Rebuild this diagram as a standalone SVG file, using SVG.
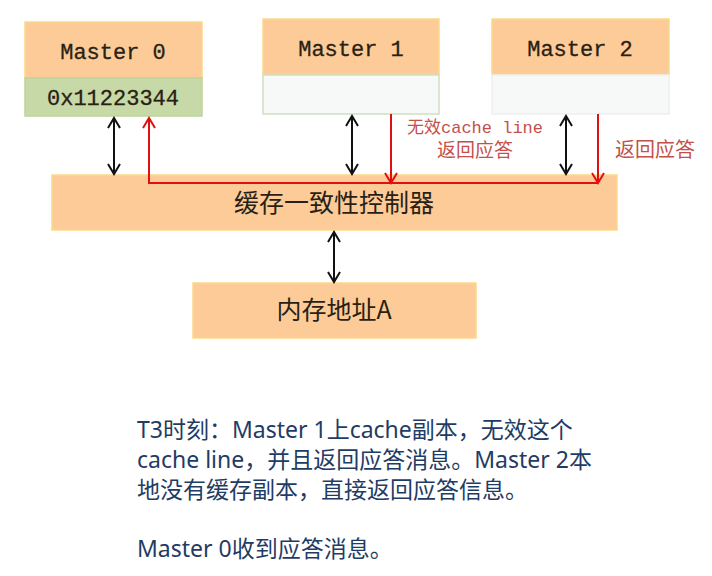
<svg xmlns="http://www.w3.org/2000/svg" width="712" height="576" viewBox="0 0 712 576">
<defs>
<marker id="ab" viewBox="0 0 14 14" refX="12" refY="7" markerWidth="14" markerHeight="14" markerUnits="userSpaceOnUse" orient="auto-start-reverse">
<path d="M2,1 L12,7 L2,13" fill="none" stroke="#111" stroke-width="2"/>
</marker>
<marker id="ar" viewBox="0 0 14 14" refX="12" refY="7" markerWidth="14" markerHeight="14" markerUnits="userSpaceOnUse" orient="auto-start-reverse">
<path d="M2,1 L12,7 L2,13" fill="none" stroke="#e01010" stroke-width="2"/>
</marker>
</defs>
<style>
.or{fill:#fccb97;stroke:#fbd98a;stroke-width:1.5}
.gr{fill:#c7d9a7;stroke:#bcd49a;stroke-width:1.5}
.em{fill:#f7f8f8;stroke:#cfe0c0;stroke-width:1.5}
.mono{font-family:"Liberation Mono","Noto Sans CJK SC",monospace;font-size:22px;fill:#2a1f14;text-anchor:middle;stroke:#2a1f14;stroke-width:0.3}
.cjk{font-family:"Noto Sans CJK SC",sans-serif;font-size:25px;fill:#2a1f14;text-anchor:middle}
.lbl{font-family:"Liberation Mono","Noto Sans CJK SC",monospace;fill:#c4504a;text-anchor:middle}
.bk{stroke:#111;stroke-width:2;fill:none;marker-start:url(#ab);marker-end:url(#ab)}
.rd{stroke:#e01010;stroke-width:2;fill:none}
.note{font-family:"Noto Sans","Noto Sans CJK SC",sans-serif;font-size:23px;fill:#1f3c64}
</style>
<g id="master0">
<rect class="or" x="25" y="22" width="177" height="56"/>
<rect class="gr" x="25" y="78" width="177" height="38"/>
<text class="mono" x="113" y="59">Master 0</text>
<text class="mono" x="113" y="105">0x11223344</text>
</g>
<g id="master1">
<rect class="or" x="263" y="19" width="176" height="56"/>
<rect class="em" x="263" y="75" width="176" height="39"/>
<text class="mono" x="351" y="56">Master 1</text>
</g>
<g id="master2">
<rect class="or" x="492" y="19" width="177" height="56"/>
<rect class="em" x="492" y="75" width="177" height="39" style="stroke:#eef0f0"/>
<text class="mono" x="580" y="56">Master 2</text>
</g>
<g id="controller">
<rect class="or" x="52" y="175" width="565" height="55"/>
<text class="cjk" x="334" y="212">缓存一致性控制器</text>
</g>
<g id="memory">
<rect class="or" x="193" y="283" width="283" height="55"/>
<text class="cjk" x="334" y="319">内存地址A</text>
</g>
<g id="connectors">
<line class="bk" x1="114" y1="118" x2="114" y2="174"/>
<line class="bk" x1="352" y1="116" x2="352" y2="174"/>
<line class="bk" x1="566" y1="116" x2="566" y2="174"/>
<line class="bk" x1="334" y1="232" x2="334" y2="282"/>
<path class="rd" d="M149,118 L149,183 L598,183" marker-start="url(#ar)"/>
<line class="rd" x1="391" y1="114" x2="391" y2="183" marker-end="url(#ar)"/>
<line class="rd" x1="598" y1="114" x2="598" y2="183" marker-end="url(#ar)"/>
<text class="lbl" x="475" y="133" font-size="17">无效cache line</text>
<text class="lbl" x="475" y="157" font-size="19">返回应答</text>
<text class="lbl" x="655" y="157" font-size="20">返回应答</text>
</g>
<g id="note">
<text class="note" x="137" y="438">T3时刻：Master 1上cache副本，无效这个</text>
<text class="note" x="137" y="468">cache line，并且返回应答消息。Master 2本</text>
<text class="note" x="137" y="498">地没有缓存副本，直接返回应答信息。</text>
<text class="note" x="137" y="557">Master 0收到应答消息。</text>
</g>
</svg>
